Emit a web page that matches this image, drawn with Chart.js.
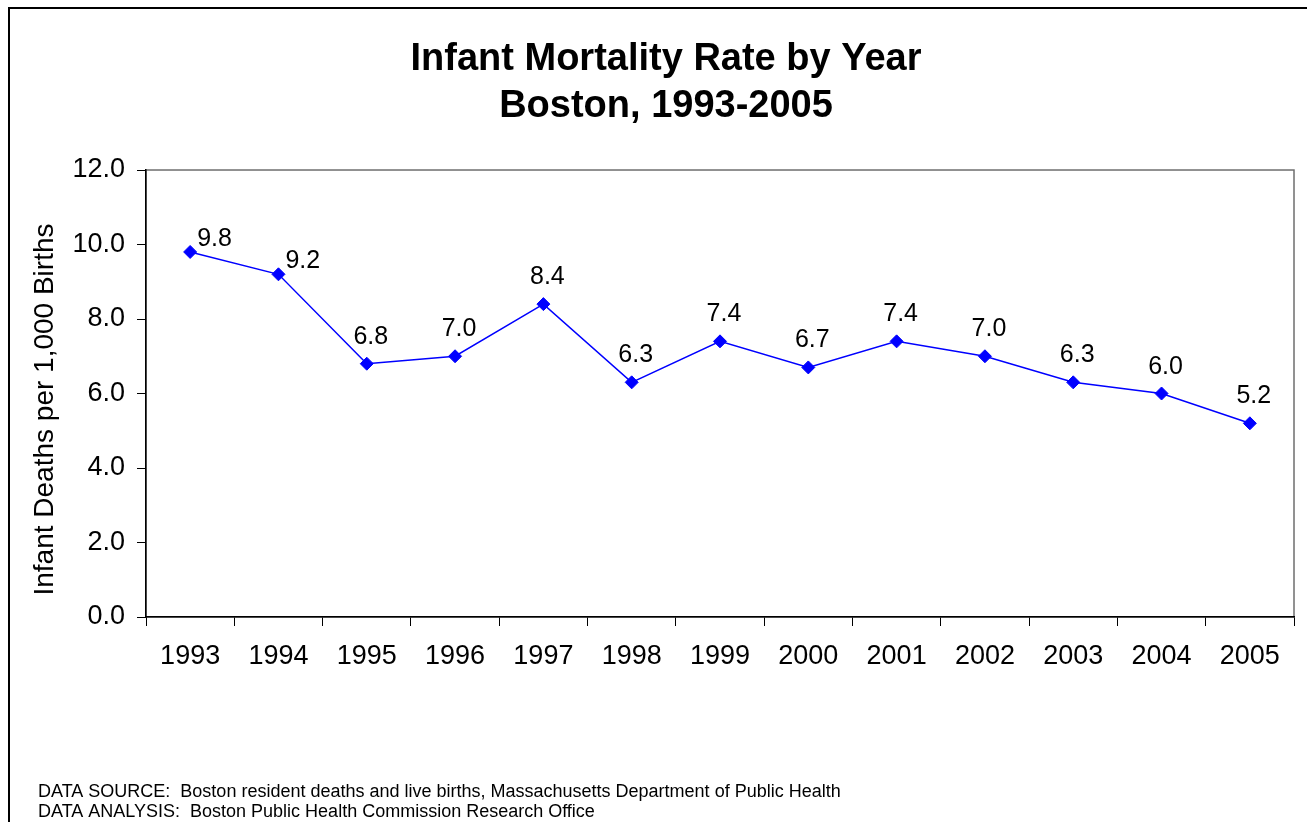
<!DOCTYPE html>
<html lang="en">
  <head>
    <meta charset="UTF-8" />
    <title>Infant Mortality Rate by Year - Boston, 1993-2005</title>
    <script src="https://cdn.jsdelivr.net/npm/chart.js"></script>
    <style>
      html,
      body {
        margin: 0;
        padding: 0;
        background: #ffffff;
        overflow: hidden;
      }

      .chart-box {
        position: relative;
        width: 1307px;
        height: 822px;
      }
    </style>
  </head>
  <body>
    <div class="chart-box">
      <canvas id="mortalityChart"></canvas>
    </div>

    <script>
      // chart data
      const years = [
        "1993", "1994", "1995", "1996", "1997", "1998", "1999",
        "2000", "2001", "2002", "2003", "2004", "2005",
      ];
      const rates = [9.8, 9.2, 6.8, 7.0, 8.4, 6.3, 7.4, 6.7, 7.4, 7.0, 6.3, 6.0, 5.2];
      const yTicks = [0, 2, 4, 6, 8, 10, 12];
      // where each value label sits relative to its point
      const labelPlacement = [
        "right", "right", "above", "above", "above", "above", "above",
        "above", "above", "above", "above", "above", "above",
      ];

      const titleLines = ["Infant Mortality Rate by Year", "Boston, 1993-2005"];
      const yTitle = "Infant Deaths per 1,000 Births";
      const footLines = [
        "DATA SOURCE:  Boston resident deaths and live births, Massachusetts Department of Public Health",
        "DATA ANALYSIS:  Boston Public Health Commission Research Office",
      ];

      const FONT = "'Liberation Sans', Arial, sans-serif";

      // outer frame + plot area border
      const framePlugin = {
        id: "frame",
        beforeDraw(chart) {
          const ctx = chart.ctx;
          const a = chart.chartArea;
          ctx.save();
          ctx.strokeStyle = "#000000";
          ctx.lineWidth = 2;
          ctx.strokeRect(9, 8, chart.width + 20, chart.height + 20);
          ctx.strokeStyle = "#6e6e6e";
          ctx.lineWidth = 1.5;
          ctx.strokeRect(a.left, a.top, a.right - a.left, a.bottom - a.top);
          ctx.restore();
        },
        afterDraw(chart) {
          // y axis title, sits a bit below the middle like the original
          const ctx = chart.ctx;
          const a = chart.chartArea;
          ctx.save();
          ctx.translate(45, (a.top + a.bottom) / 2 + 16);
          ctx.rotate(-Math.PI / 2);
          ctx.font = "28px " + FONT;
          ctx.fillStyle = "#000000";
          ctx.textAlign = "center";
          ctx.textBaseline = "middle";
          ctx.fillText(yTitle, 0, 0);
          ctx.restore();
        },
      };

      // value labels next to the points
      const valueLabels = {
        id: "valueLabels",
        afterDatasetsDraw(chart) {
          const ctx = chart.ctx;
          const meta = chart.getDatasetMeta(0);
          ctx.save();
          ctx.font = "25px " + FONT;
          ctx.fillStyle = "#000000";
          ctx.textBaseline = "alphabetic";
          meta.data.forEach((pt, i) => {
            const txt = rates[i].toFixed(1);
            if (labelPlacement[i] === "right") {
              ctx.textAlign = "left";
              ctx.fillText(txt, pt.x + 7, pt.y - 6);
            } else {
              ctx.textAlign = "center";
              ctx.fillText(txt, pt.x + 4, pt.y - 20);
            }
          });
          ctx.restore();
        },
      };

      new Chart(document.getElementById("mortalityChart").getContext("2d"), {
        type: "line",
        data: {
          labels: years,
          datasets: [
            {
              label: "Infant Mortality Rate",
              data: rates,
              borderColor: "#0000ff",
              backgroundColor: "#0000ff",
              borderWidth: 1.5,
              pointStyle: "rectRot",
              pointRadius: 6.5,
              pointBorderWidth: 1,
              pointBackgroundColor: "#0000ff",
              pointBorderColor: "#0000ff",
              tension: 0,
              fill: false,
            },
          ],
        },
        options: {
          responsive: true,
          maintainAspectRatio: false,
          animation: false,
          layout: { padding: { left: 38, right: 13, top: 0, bottom: 0 } },
          plugins: {
            legend: { display: false },
            tooltip: { enabled: false },
            title: {
              display: true,
              text: titleLines,
              color: "#000000",
              font: { family: FONT, size: 38, weight: "bold", lineHeight: 1.237 },
              padding: { top: 36, bottom: 40 },
            },
            subtitle: {
              display: true,
              position: "bottom",
              align: "start",
              text: footLines,
              color: "#000000",
              font: { family: FONT, size: 18, lineHeight: 1.111 },
              padding: { top: 105, bottom: 0 },
            },
          },
          scales: {
            x: {
              type: "category",
              offset: true,
              grid: {
                offset: true,
                drawOnChartArea: false,
                drawTicks: true,
                tickLength: 9,
                tickColor: "#000000",
                color: "#000000",
              },
              border: { display: true, color: "#000000", width: 1.5 },
              ticks: {
                color: "#000000",
                font: { family: FONT, size: 27 },
                padding: 14,
                maxRotation: 0,
                autoSkip: false,
              },
              afterFit(scale) {
                scale.height = 60;
              },
            },
            y: {
              min: 0,
              max: 12,
              afterBuildTicks(scale) {
                scale.ticks = yTicks.map((v) => ({ value: v }));
              },
              grid: {
                drawOnChartArea: false,
                drawTicks: true,
                tickLength: 9,
                tickColor: "#000000",
                color: "#000000",
              },
              border: { display: true, color: "#000000", width: 1.5 },
              ticks: {
                color: "#000000",
                font: { family: FONT, size: 27 },
                padding: 12,
                callback: (v) => Number(v).toFixed(1),
              },
              afterFit(scale) {
                scale.width = 108;
              },
            },
          },
        },
        plugins: [framePlugin, valueLabels],
      });
    </script>
  </body>
</html>
